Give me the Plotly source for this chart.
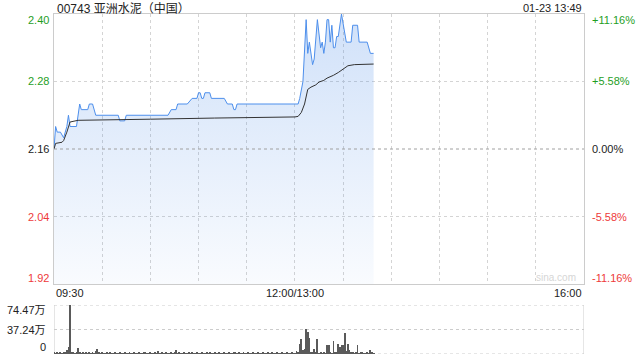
import plotly.graph_objects as go

# ---------------- data ----------------
title_text = "00743 亚洲水泥（中国）"
stamp_text = "01-23 13:49"
prev_close = 2.16

price_times = ["09:30", "09:31", "09:32", "09:34", "09:36", "09:38", "09:39", "09:40", "09:44",
               "09:46", "09:47", "09:51", "09:52", "09:54", "09:56", "10:10", "10:11", "10:14",
               "10:15", "10:41", "10:43", "10:46", "10:47", "10:53", "10:56", "10:59", "11:00",
               "11:01", "11:02", "11:03", "11:04", "11:07", "11:08", "11:16", "11:18", "11:21",
               "11:22", "11:23", "11:24", "11:59", "13:00", "13:02", "13:03", "13:05", "13:07",
               "13:08", "13:09", "13:11", "13:12", "13:14", "13:16", "13:17", "13:18", "13:19",
               "13:20", "13:21", "13:22", "13:23", "13:24", "13:25", "13:26", "13:27", "13:29",
               "13:31", "13:32", "13:35", "13:36", "13:39", "13:40", "13:45", "13:47", "13:49"]
price_values = [2.16, 2.20, 2.19, 2.19, 2.18, 2.20, 2.22, 2.20, 2.20,
                2.24, 2.23, 2.23, 2.24, 2.24, 2.22, 2.22, 2.21, 2.21,
                2.22, 2.22, 2.23, 2.23, 2.24, 2.24, 2.25, 2.25, 2.26,
                2.26, 2.25, 2.25, 2.26, 2.26, 2.25, 2.25, 2.24, 2.24,
                2.23, 2.23, 2.24, 2.24, 2.24, 2.24, 2.25, 2.28, 2.39,
                2.33, 2.35, 2.31, 2.32, 2.39, 2.34, 2.35, 2.33, 2.35,
                2.39, 2.39, 2.35, 2.38, 2.34, 2.34, 2.36, 2.36, 2.40,
                2.37, 2.35, 2.35, 2.38, 2.38, 2.35, 2.35, 2.33, 2.33]

avg_times = ["09:30", "09:31", "09:35", "09:36", "09:38", "09:40", "09:45", "10:00", "10:30",
             "11:10", "11:59", "13:00", "13:02", "13:04", "13:06", "13:08", "13:10", "13:13",
             "13:15", "13:18", "13:20", "13:22", "13:24", "13:27", "13:29", "13:31", "13:33",
             "13:37", "13:49"]
avg_values = [2.160, 2.170, 2.172, 2.175, 2.190, 2.208, 2.211, 2.212, 2.213,
              2.215, 2.216, 2.217, 2.218, 2.225, 2.240, 2.266, 2.270, 2.274,
              2.279, 2.282, 2.286, 2.288, 2.291, 2.296, 2.300, 2.305, 2.308,
              2.310, 2.311]

# volume per minute from 09:30 (unit: 万股)
volume_values = [
    3, 1, 2, 1, 2, 1, 2, 3, 6, 10,
    74.47, 3, 2, 1, 3, 9, 2, 1, 2, 1,
    2, 1, 3, 1, 2, 1, 4, 7, 2, 1,
    2, 1, 1, 2, 1, 2, 1, 1, 2, 1,
    1, 2, 1, 1, 2, 1, 1, 2, 1, 1,
    2, 1, 1, 2, 1, 1, 2, 3, 1, 1,
    2, 1, 1, 2, 1, 4, 1, 2, 1, 1,
    2, 1, 1, 2, 1, 3, 6, 1, 2, 1,
    1, 2, 1, 1, 2, 1, 2, 1, 1, 2,
    1, 1, 2, 1, 1, 3, 1, 2, 1, 1,
    2, 1, 1, 2, 1, 1, 2, 1, 1, 2,
    1, 1, 2, 3, 1, 2, 1, 1, 2, 1,
    1, 2, 1, 1, 2, 1, 1, 2, 1, 1,
    2, 1, 1, 2, 1, 1, 2, 1, 1, 2,
    1, 1, 2, 1, 1, 2, 1, 1, 2, 1,
    1, 5, 2, 15, 23, 6, 8, 38, 34, 25,
    3, 2, 8, 2, 23, 1, 3, 1, 2, 1,
    14, 14, 3, 1, 20, 2, 3, 15, 10, 13,
    14, 32, 5, 15, 6, 3, 2, 1, 2, 14,
    1, 2, 2, 1, 1, 2, 1, 6, 3, 1,
]

price_ticks = [2.40, 2.28, 2.16, 2.04, 1.92]
pct_ticks = ["+11.16%", "+5.58%", "0.00%", "-5.58%", "-11.16%"]
x_labels = ["09:30", "12:00/13:00", "16:00"]
vol_ticks = [74.47, 37.24, 0]
vol_labels = ["74.47万", "37.24万", "0"]


def to_idx(t):
    h, m = map(int, t.split(":"))
    mins = h * 60 + m
    if mins <= 12 * 60:
        return mins - (9 * 60 + 30)
    return mins - 13 * 60 + 150


W, H = 640, 360
L, R = 54, 584
PT, PB = 14, 284
VT, VB = 305, 354


def px(x):
    return x / W


def py(y):
    return 1 - y / H


GREEN = "#1f9e1f"
RED = "#ee3a3a"
BLACK = "#222222"
FONT = "Liberation Sans, Arial, Noto Sans CJK SC, sans-serif"

px_idx = [to_idx(t) for t in price_times]
avg_idx = [to_idx(t) for t in avg_times]
vol_idx = list(range(len(volume_values)))

fig = go.Figure()
fig.add_trace(go.Scatter(
    x=px_idx, y=price_values, mode="lines",
    line=dict(color="#4d8fec", width=1),
    fill="tozeroy",
    fillgradient=dict(type="vertical", start=1.92, stop=2.40,
                      colorscale=[[0, "rgba(60,130,230,0.03)"], [1, "rgba(60,130,230,0.24)"]]),
    xaxis="x", yaxis="y", hoverinfo="skip", showlegend=False))
fig.add_trace(go.Scatter(
    x=avg_idx, y=avg_values, mode="lines",
    line=dict(color="#333333", width=1),
    xaxis="x", yaxis="y", hoverinfo="skip", showlegend=False))
fig.add_trace(go.Bar(
    x=vol_idx, y=volume_values, width=0.55,
    marker=dict(color="#5a5a5a", line=dict(width=0)),
    xaxis="x2", yaxis="y2", hoverinfo="skip", showlegend=False))

grid_x = [30, 60, 90, 120, 150, 180, 210, 240, 270, 300]

fig.update_layout(
    width=W, height=H, autosize=False,
    margin=dict(l=0, r=0, t=0, b=0),
    paper_bgcolor="white", plot_bgcolor="white",
    font=dict(family=FONT, size=11, color=BLACK),
    bargap=0,
    xaxis=dict(domain=[px(L), px(R)], range=[0, 330], anchor="y",
               tickvals=grid_x, showticklabels=False, ticks="",
               showgrid=True, gridcolor="#d4d4d4", griddash="dot", gridwidth=1,
               zeroline=False, showline=True, mirror=True, linecolor="#cccccc", linewidth=1),
    yaxis=dict(domain=[py(PB), py(PT)], range=[1.92, 2.40],
               tickvals=[2.28, 2.04], showticklabels=False, ticks="",
               showgrid=True, gridcolor="#d4d4d4", griddash="dot", gridwidth=1,
               zeroline=False, showline=True, mirror=True, linecolor="#cccccc", linewidth=1),
    xaxis2=dict(domain=[px(L), px(R)], range=[0, 330], anchor="y2",
                showticklabels=False, ticks="", showgrid=False, zeroline=False,
                showline=False),
    yaxis2=dict(domain=[py(VB), py(VT)], range=[0, 74.47],
                showticklabels=False, ticks="", showgrid=False, zeroline=False,
                showline=False),
)

shapes = []
# previous close line
shapes.append(dict(type="line", xref="x", yref="y", x0=0, x1=330, y0=prev_close, y1=prev_close,
                   line=dict(color="#a0a0a0", width=1, dash="dot"), layer="above"))
# volume panel frame
for v in vol_ticks:
    shapes.append(dict(type="line", xref="x2", yref="y2", x0=0, x1=330, y0=v, y1=v,
                       line=dict(color="#cccccc", width=1, dash="dot"), layer="below"))
for xv in (0, 330):
    shapes.append(dict(type="line", xref="x2", yref="y2", x0=xv, x1=xv, y0=0, y1=74.47,
                       line=dict(color="#cccccc", width=1), layer="below"))
fig.update_layout(shapes=shapes)

ann = []
ann.append(dict(text=title_text, xref="paper", yref="paper", x=px(55), y=py(8),
                xanchor="left", yanchor="middle", showarrow=False,
                font=dict(size=12, color="#222222")))
ann.append(dict(text=stamp_text, xref="paper", yref="paper", x=px(584), y=py(8),
                xanchor="right", yanchor="middle", showarrow=False,
                font=dict(size=11, color="#222222")))

colors = [GREEN, GREEN, BLACK, RED, RED]
shifts = [-6, 0, 0, 0, 6]
for val, pct, c, s in zip(price_ticks, pct_ticks, colors, shifts):
    ann.append(dict(text=f"{val:.2f}", xref="paper", yref="y", x=px(51), y=val, yshift=s,
                    xanchor="right", yanchor="middle", showarrow=False,
                    font=dict(size=11, color=c)))
    ann.append(dict(text=pct, xref="paper", yref="y", x=px(590), y=val, yshift=s,
                    xanchor="left", yanchor="middle", showarrow=False,
                    font=dict(size=11, color=c)))

xl_anchor = ["left", "center", "right"]
xl_pos = [0, 150, 330]
for t, a, xp in zip(x_labels, xl_anchor, xl_pos):
    ann.append(dict(text=t, xref="x", yref="paper", x=xp, y=py(293),
                    xanchor=a, yanchor="middle", showarrow=False,
                    font=dict(size=11, color="#222222")))

vshift = [-5, 0, 7]
for v, lab, s in zip(vol_ticks, vol_labels, vshift):
    ann.append(dict(text=lab, xref="paper", yref="y2", x=px(48), y=v, yshift=s,
                    xanchor="right", yanchor="middle", showarrow=False,
                    font=dict(size=11, color="#222222")))

ann.append(dict(text="sina.com", xref="paper", yref="paper", x=px(578), y=py(277),
                xanchor="right", yanchor="middle", showarrow=False,
                font=dict(size=10, color="#d6d6d6")))
fig.update_layout(annotations=ann)

fig.write_html("out.html")
